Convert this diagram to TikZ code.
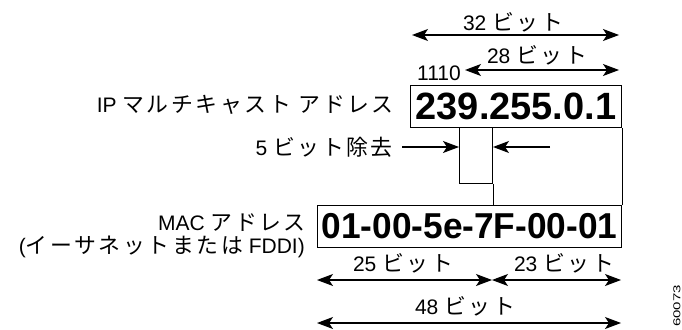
\documentclass[tikz,border=0pt]{standalone}
\usepackage{fontspec}
\setmainfont{Liberation Sans}
\newfontfamily\jp[Scale=1.04,LetterSpace=12]{Noto Sans CJK JP}
\usetikzlibrary{arrows.meta}
\begin{document}
\begin{tikzpicture}[x=1pt,y=-1pt,
  lbl/.style={inner sep=0pt, font=\fontsize{21}{24}\selectfont},
  big/.style={inner sep=0pt, font=\fontsize{38}{40}\selectfont\bfseries},
  dim/.style={line width=1.1pt, {Stealth[length=16pt,width=12pt,inset=4pt]}-{Stealth[length=16pt,width=12pt,inset=4pt]}},
  onearrow/.style={line width=1.1pt, -{Stealth[length=16pt,width=12pt,inset=4pt]}},
  boxline/.style={line width=1pt}]
\useasboundingbox (0,0) rectangle (682,329);
% top dimension arrows
\coordinate (t32a) at (412,35); \coordinate (t32b) at (619,35);
\coordinate (t28a) at (465,70); \coordinate (t28b) at (619,70);
\draw[dim] (t32a) -- (t32b);
\draw[dim] (t28a) -- (t28b);
\node[lbl] (l32) at (513,22) {32 {\jp ビット}};
\node[lbl] (l28) at (537,55) {28 {\jp ビット}};
\node[lbl, anchor=east] (l1110) at (461,73) {1110};
% IP box
\node[boxline, draw, minimum width=211pt, minimum height=42pt, inner sep=0pt, anchor=north west] (ip) at (410,85) {};
\node[big] (iptext) at (ip.center) {239.255.0.1};
\node[lbl, anchor=east] (iplbl) at (394,105) {IP {\jp マルチキャスト アドレス}};
% removed bits box
\node[boxline, draw, minimum width=33pt, minimum height=56pt, inner sep=0pt, anchor=north west] (rm) at (459,127) {};
\node[lbl, anchor=east] (rmlbl) at (393,147) {5 {\jp ビット除去}};
\coordinate (al) at (402,147);
\coordinate (ar) at (550,147);
\draw[onearrow] (al) -- (rm.west|-al);
\draw[onearrow] (ar) -- (rm.east|-ar);
% MAC box
\node[boxline, draw, minimum width=304pt, minimum height=42pt, inner sep=0pt, anchor=north west] (mac) at (317,205) {};
\node[big, font=\fontsize{36}{40}\selectfont\bfseries, xscale=0.98] (mactext) at (mac.center) {01-00-5e-7F-00-01};
\draw[boxline] (rm.south east) -- (rm.east|-mac.north);
\draw[boxline] (ip.south east) -- (mac.north east);
\node[lbl, anchor=east] (maclbl1) at (306,223) {MAC {\jp アドレス}};
\node[lbl, anchor=east] (maclbl2) at (305,247) {({\jp イーサネットまたは} FDDI)};
% bottom dimension arrows
\coordinate (b25a) at (317,280); \coordinate (bmid) at (492,280); \coordinate (b23b) at (621,280);
\coordinate (b48a) at (317,323); \coordinate (b48b) at (621,323);
\draw[dim] (b25a) -- (bmid);
\draw[dim] (bmid) -- (b23b);
\draw[dim] (b48a) -- (b48b);
\node[lbl] (l25) at (403,263) {25 {\jp ビット}};
\node[lbl] (l23) at (564,263) {23 {\jp ビット}};
\node[lbl] (l48) at (465,306) {48 {\jp ビット}};
\node[inner sep=0pt, rotate=90, font=\fontsize{10}{12}\selectfont] (fig) at (677,306) {\scalebox{1.5}[1]{60073}};
\end{tikzpicture}
\end{document}
